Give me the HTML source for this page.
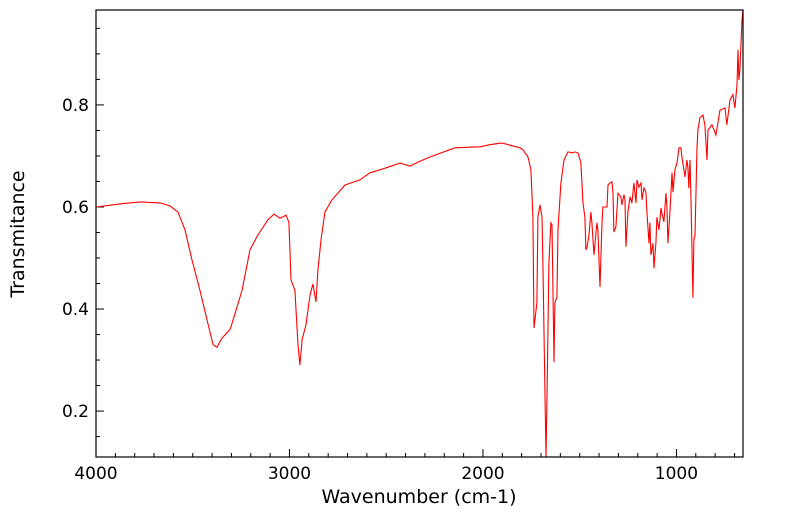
<!DOCTYPE html>
<html><head><meta charset="utf-8"><style>
html,body{margin:0;padding:0;background:#fff;}
svg{display:block;font-family:"DejaVu Sans","Liberation Sans",sans-serif;}
</style></head><body>
<svg id="chart" width="799" height="516">
<g id="ticks"></g>
<path id="series" fill="none" stroke="#ff0000" stroke-width="1.1"/>
<rect x="96" y="10" width="647" height="447" fill="none" stroke="#000" stroke-width="1.2"/>
<text x="419" y="503" font-size="19" text-anchor="middle">Wavenumber (cm-1)</text>
<text transform="translate(24,234) rotate(-90)" font-size="19" text-anchor="middle">Transmitance</text>
</svg>
<script>
const wavenumbers=[4000,3876,3773,3669,3618,3576,3540,3504,3463,3426,3395,3375,3349,3307,3282,3245,3204,3163,3111,3080,3049,3018,3003,2992,2972,2956,2946,2935,2915,2894,2879,2863,2853,2837,2817,2780,2713,2636,2584,2506,2429,2377,2336,2274,2145,2016,1964,1912,1897,1860,1809,1793,1767,1752,1742,1736,1721,1716,1705,1695,1690,1674,1669,1659,1649,1643,1633,1628,1618,1612,1597,1581,1561,1540,1525,1509,1494,1483,1473,1468,1463,1452,1442,1437,1426,1411,1406,1395,1385,1380,1359,1354,1344,1333,1328,1323,1313,1302,1287,1282,1271,1266,1261,1251,1240,1230,1220,1209,1204,1194,1183,1178,1168,1158,1152,1142,1137,1132,1121,1116,1106,1101,1090,1080,1075,1065,1054,1049,1044,1034,1023,1018,1008,997,987,977,972,956,946,941,936,930,925,915,910,904,894,889,878,863,853,842,837,816,796,775,749,739,723,708,698,687,682,677,672,661,656];
const transmittance=[0.600,0.606,0.610,0.608,0.602,0.590,0.555,0.496,0.437,0.378,0.330,0.325,0.343,0.360,0.390,0.437,0.516,0.545,0.575,0.586,0.578,0.584,0.570,0.457,0.437,0.330,0.290,0.340,0.368,0.427,0.449,0.414,0.476,0.535,0.590,0.614,0.643,0.653,0.667,0.676,0.686,0.680,0.688,0.698,0.716,0.718,0.722,0.725,0.725,0.721,0.716,0.712,0.698,0.673,0.580,0.363,0.412,0.580,0.604,0.580,0.490,0.108,0.227,0.490,0.569,0.565,0.296,0.412,0.423,0.555,0.647,0.692,0.708,0.706,0.708,0.706,0.686,0.608,0.580,0.516,0.520,0.545,0.590,0.569,0.506,0.569,0.555,0.443,0.569,0.600,0.600,0.643,0.647,0.649,0.627,0.551,0.561,0.627,0.620,0.604,0.624,0.614,0.522,0.590,0.620,0.608,0.647,0.608,0.653,0.639,0.647,0.614,0.637,0.629,0.588,0.529,0.569,0.506,0.529,0.480,0.529,0.580,0.555,0.598,0.588,0.571,0.627,0.598,0.529,0.588,0.667,0.629,0.673,0.686,0.716,0.716,0.698,0.659,0.692,0.678,0.637,0.692,0.614,0.422,0.535,0.545,0.716,0.751,0.775,0.780,0.761,0.692,0.751,0.761,0.741,0.790,0.794,0.761,0.810,0.820,0.794,0.839,0.908,0.849,0.869,0.967,0.986];
const xTickVals=[4000,3000,2000,1000];
const yTickVals=[0.2,0.4,0.6,0.8];
const L=96,R=743,T=10,B=457;
const X0=4000,X1=656,Y0=0.110,Y1=0.986;
function sx(v){return L+(X0-v)/(X0-X1)*(R-L);}
function sy(v){return B-(v-Y0)/(Y1-Y0)*(B-T);}
let d='';
for(let i=0;i<wavenumbers.length;i++){d+=(i?'L':'M')+sx(wavenumbers[i]).toFixed(1)+','+Math.max(T,Math.min(B,sy(transmittance[i]))).toFixed(1);}
document.getElementById('series').setAttribute('d',d);
const ns='http://www.w3.org/2000/svg';
const g=document.getElementById('ticks');
function line(x1,y1,x2,y2){const l=document.createElementNS(ns,'line');l.setAttribute('x1',x1);l.setAttribute('y1',y1);l.setAttribute('x2',x2);l.setAttribute('y2',y2);l.setAttribute('stroke','#000');l.setAttribute('stroke-width','1');


g.appendChild(l);}
for(let w=4000;w>=X1;w-=100){const x=sx(w);const major=w%1000===0;line(x,B,x,B-(major?8:4));}
for(let v=0.15;v<Y1;v+=0.05){const y=sy(v);const major=Math.abs(v*10-Math.round(v*10))<1e-6&&Math.round(v*10)%2===0;line(L,y,L+(major?8:4),y);}
xTickVals.forEach(v=>{const t=document.createElementNS(ns,'text');t.setAttribute('x',sx(v));t.setAttribute('y',B+22);t.setAttribute('font-size','17');t.setAttribute('text-anchor','middle');t.textContent=v;


g.appendChild(t);});
yTickVals.forEach(v=>{const t=document.createElementNS(ns,'text');t.setAttribute('x',L-7);t.setAttribute('y',sy(v)+6);t.setAttribute('font-size','17');t.setAttribute('text-anchor','end');t.textContent=v.toFixed(1);


g.appendChild(t);});
</script>
</body></html>
